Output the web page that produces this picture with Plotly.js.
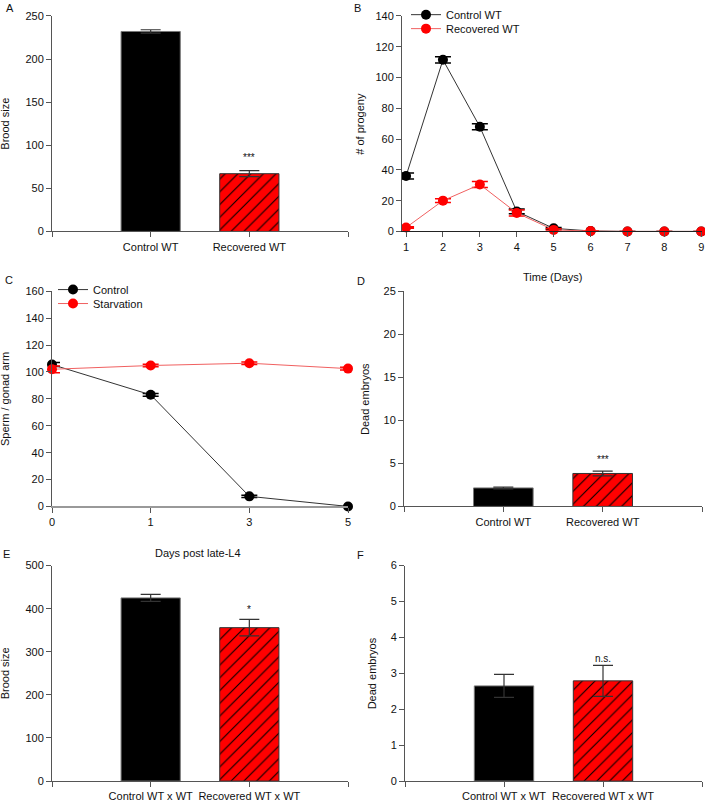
<!DOCTYPE html>
<html>
<head>
<meta charset="utf-8">
<script src="https://cdn.plot.ly/plotly-3.0.1.min.js"></script>
<style>
    html, body { margin: 0; padding: 0; background: #fff; }
    #grafico { width: 705px; height: 802px; }
</style>
</head>
<body>
<div id="grafico"></div>
<script>
// A - brood size
const groupsWT = ['Control WT', 'Recovered WT'];
const broodA = [232, 67];
const broodAErr = [2, 3.5];

// B - progeny per day
const days = [1, 2, 3, 4, 5, 6, 7, 8, 9];
const progenyControl = [36, 111.5, 68, 13, 2, 0.3, 0, 0, 0];
const progenyControlErr = [2, 2, 2, 1.5, 0.6, 0.2, 0, 0, 0];
const progenyRecovered = [2.5, 20, 30.5, 12, 1, 0.2, 0, 0, 0];
const progenyRecoveredErr = [0.5, 1.2, 2, 2, 0.8, 0.2, 0, 0, 0];

// C - sperm / gonad arm
const daysL4 = ['0', '1', '3', '5'];
const spermControl = [105.5, 83, 7.5, 0];
const spermControlErr = [1.5, 1, 0.8, 0];
const spermStarved = [102, 104.8, 106.5, 102.5];
const spermStarvedErr = [2.5, 1, 1, 1];

// D - dead embryos
const deadD = [2.15, 3.83];
const deadDErr = [0.1, 0.27];

// E - brood size, crosses
const groupsCross = ['Control WT x WT', 'Recovered WT x WT'];
const broodE = [425, 356];
const broodEErr = [8, 19];

// F - dead embryos, crosses
const deadF = [2.65, 2.79];
const deadFErr = [0.32, 0.43];

const W = 705, H = 802;
const FONT = 'Liberation Sans, Arial, sans-serif';
const dx = p => p / W;
const dy = p => 1 - p / H;

// one trace per bar so the hatched one can have its own pattern
function barTraces(n, values, errors, labels) {
    const styles = [
        { color: '#000000', line: { color: '#777777', width: 1 } },
        {
            color: '#ff0000', line: { color: '#333333', width: 1 },
            pattern: { shape: '/', fgcolor: '#000000', bgcolor: '#ff0000', size: 9, solidity: 0.12, fillmode: 'replace' }
        }
    ];
    return values.map((v, i) => ({
        type: 'bar',
        x: [i],
        y: [v],
        name: labels[i],
        width: 0.6,
        xaxis: 'x' + n,
        yaxis: 'y' + n,
        showlegend: false,
        marker: styles[i],
        error_y: { type: 'data', array: [errors[i]], visible: true, color: '#333', thickness: 1.2, width: 10 }
    }));
}

function lineTrace(n, x, y, err, name, color, lineColor, legend) {
    return {
        type: 'scatter',
        mode: 'lines+markers',
        x: x,
        y: y,
        name: name,
        xaxis: 'x' + n,
        yaxis: 'y' + n,
        legend: legend,
        cliponaxis: false,
        line: { color: lineColor, width: 1 },
        marker: { color: color, size: 10 },
        error_y: { type: 'data', array: err, visible: true, color: color, thickness: 1.5, width: 8 }
    };
}

const traces = [].concat(
    barTraces('', broodA, broodAErr, groupsWT),
    [
        lineTrace(2, days, progenyControl, progenyControlErr, 'Control WT', '#000000', '#333333', 'legend'),
        lineTrace(2, days, progenyRecovered, progenyRecoveredErr, 'Recovered WT', '#ff0000', '#f06060', 'legend2'),
        lineTrace(3, daysL4, spermControl, spermControlErr, 'Control', '#000000', '#333333', 'legend3'),
        lineTrace(3, daysL4, spermStarved, spermStarvedErr, 'Starvation', '#ff0000', '#f06060', 'legend4')
    ],
    barTraces(4, deadD, deadDErr, groupsWT),
    barTraces(5, broodE, broodEErr, groupsCross),
    barTraces(6, deadF, deadFErr, groupsCross)
);

function axis(extra) {
    return Object.assign({
        showline: true, linecolor: '#555', linewidth: 1,
        ticks: 'outside', ticklen: 5, tickcolor: '#555',
        showgrid: false, zeroline: false, fixedrange: true,
        tickfont: { family: FONT, size: 11, color: '#111' }
    }, extra);
}

function catAxis(x0, x1, labels, anchor) {
    return axis({
        domain: [dx(x0), dx(x1)], anchor: anchor, range: [-1, 2],
        tickmode: 'array', tickvals: [-1, 0, 1, 2], ticktext: [''].concat(labels, [''])
    });
}

function valAxis(y0, y1, top, step, anchor) {
    return axis({ domain: [dy(y1), dy(y0)], anchor: anchor, range: [0, top], dtick: step, tick0: 0 });
}

function legendAt(x, y) {
    return {
        x: dx(x), y: dy(y), xanchor: 'left', yanchor: 'middle',
        bgcolor: 'rgba(0,0,0,0)', borderwidth: 0,
        font: { family: FONT, size: 11, color: '#111' }
    };
}

function note(text, x, y, size, angle) {
    return {
        text: text, xref: 'paper', yref: 'paper', x: dx(x), y: dy(y),
        xanchor: 'center', yanchor: 'middle', showarrow: false, textangle: angle || 0,
        font: { family: FONT, size: size || 11, color: '#111' }
    };
}

function star(text, n, yv) {
    return {
        text: text, xref: 'x' + n, yref: 'y' + n, x: 1, y: yv,
        xanchor: 'center', yanchor: 'middle', showarrow: false,
        font: { family: FONT, size: 10, color: '#111' }
    };
}

const layout = {
    width: W,
    height: H,
    margin: { l: 0, r: 0, t: 0, b: 0 },
    paper_bgcolor: '#fff',
    plot_bgcolor: '#fff',
    font: { family: FONT, size: 11, color: '#111' },
    barmode: 'overlay',

    xaxis: catAxis(52, 348, groupsWT, 'y'),
    yaxis: valAxis(14, 230, 250, 50, 'x'),

    xaxis2: axis({ domain: [dx(402), dx(702)], anchor: 'y2', range: [0.89, 9.02], tickmode: 'array', tickvals: days, linecolor: '#222' }),
    yaxis2: valAxis(14, 230, 140, 20, 'x2'),

    xaxis3: axis({ domain: [dx(52), dx(348)], anchor: 'y3', type: 'category', range: [0, 3], linecolor: '#999', linewidth: 1.5 }),
    yaxis3: valAxis(290, 505.7, 160, 20, 'x3'),

    xaxis4: catAxis(404, 702, groupsWT, 'y4'),
    yaxis4: valAxis(290, 505.7, 25, 5, 'x4'),

    xaxis5: catAxis(52, 348, groupsCross, 'y5'),
    yaxis5: valAxis(565, 781, 500, 100, 'x5'),

    xaxis6: catAxis(405, 702, groupsCross, 'y6'),
    yaxis6: valAxis(565, 781, 6, 1, 'x6'),

    legend: legendAt(406, 12.7),
    legend2: legendAt(406, 26.7),
    legend3: legendAt(53, 288.3),
    legend4: legendAt(53, 302.3),

    annotations: [
        note('A', 10, 6), note('B', 358, 6), note('C', 9, 279),
        note('D', 361, 280), note('E', 6, 553), note('F', 360, 554),
        note('Brood size', 5, 122, 11, -90),
        note('# of progeny', 360, 122, 11, -90),
        note('Sperm / gonad arm', 5, 398, 11, -90),
        note('Dead embryos', 365, 398, 11, -90),
        note('Brood size', 5, 673, 11, -90),
        note('Dead embryos', 372, 673, 11, -90),
        note('Time (Days)', 552, 276),
        note('Days post late-L4', 198, 552),
        star('***', '', 86),
        star('***', 4, 5.4),
        star('*', 5, 398),
        star('n.s.', 6, 3.42)
    ]
};

Plotly.newPlot('grafico', traces, layout, { displayModeBar: false, staticPlot: true });
</script>
</body>
</html>
